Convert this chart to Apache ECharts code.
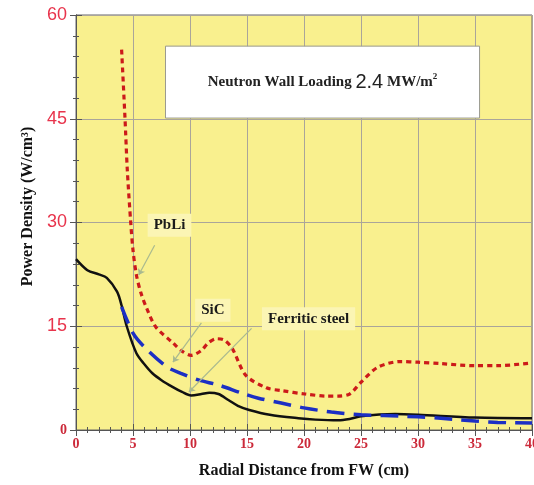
<!DOCTYPE html>
<html><head><meta charset="utf-8">
<script src="https://cdn.jsdelivr.net/npm/echarts@6/dist/echarts.min.js"></script>
<style>html,body{margin:0;padding:0;background:#fff}#c{width:534px;height:485px}</style>
</head><body><div id="c"></div>
<script>
// PbLi (red dotted)
const pbliX = [4.0, 4.3, 4.5, 4.8, 5.0, 5.3, 5.7, 6.2, 7.0, 8.5, 9.3, 10.1, 11.0, 11.6, 12.3, 13.0, 13.7, 14.9, 16.7, 18.0, 20.1, 22.0, 23.0, 24.0, 25.0, 26.5, 28.5, 30.0, 32.0, 35.0, 37.0, 40.0];
const pbliY = [55.0, 45.0, 37.6, 30.0, 26.0, 22.4, 19.8, 17.6, 14.9, 12.6, 11.4, 10.8, 11.5, 12.6, 13.2, 13.0, 11.8, 7.9, 6.1, 5.7, 5.2, 4.9, 4.9, 5.2, 6.9, 9.1, 9.9, 9.8, 9.6, 9.3, 9.3, 9.7];
// SiC (blue dashed)
const sicX = [4.0, 5.0, 6.0, 8.0, 9.2, 10.8, 12.5, 14.6, 16.0, 18.0, 20.0, 22.4, 25.0, 27.0, 30.0, 32.0, 35.0, 37.0, 40.0];
const sicY = [17.8, 14.0, 12.0, 9.1, 8.2, 7.2, 6.5, 5.3, 4.6, 3.9, 3.2, 2.6, 2.2, 2.1, 1.9, 1.7, 1.3, 1.1, 1.0];
// Ferritic steel (black solid)
const fsX = [0, 1.0, 2.0, 2.7, 3.6, 4.0, 4.45, 5.3, 6.0, 6.7, 7.5, 8.5, 9.3, 10.1, 11.0, 11.7, 12.5, 13.4, 14.2, 15.2, 17.0, 19.5, 21.0, 23.0, 24.0, 25.0, 28.0, 30.0, 35.0, 40.0];
const fsY = [24.7, 23.1, 22.5, 22.0, 20.0, 18.0, 15.0, 11.1, 9.5, 8.2, 7.2, 6.2, 5.5, 5.0, 5.2, 5.4, 5.2, 4.3, 3.5, 2.9, 2.2, 1.7, 1.5, 1.4, 1.6, 2.0, 2.3, 2.2, 1.8, 1.7];

const xTicks = [0, 5, 10, 15, 20, 25, 30, 35, 40];
const yTicks = [0, 15, 30, 45, 60];

// annotations: [labelX, labelY, arrowFromX, arrowFromY, arrowToX, arrowToY, text]
const annotations = [
  [8.2, 29.6, 6.9, 26.7, 5.5, 22.4, 'PbLi'],
  [12.0, 17.3, 11.0, 15.5, 8.5, 9.8, 'SiC'],
  [20.4, 16.1, 15.4, 14.7, 9.9, 5.5, 'Ferritic steel']
];
const boxX = [7.85, 35.4];
const boxY = [45.1, 55.5];

const zip = (xs, ys) => xs.map((x, i) => [x, ys[i]]);
const serif = '"Liberation Serif", "Times New Roman", serif';
const sans = '"Liberation Sans", Arial, sans-serif';

const tickCol = '#555';
function frameAxis(extra) {
  return Object.assign({
    axisLine: {show: true, lineStyle: {color: tickCol}},
    axisTick: {show: true, inside: true, length: 6, lineStyle: {color: tickCol}},
    minorTick: {show: true, splitNumber: 5, length: 3, lineStyle: {color: tickCol}},
  }, extra);
}

const chart = echarts.init(document.getElementById('c'), null, {renderer: 'canvas'});
chart.setOption({
  animation: false,
  backgroundColor: '#ffffff',
  grid: {left: 76, right: 2, top: 15, bottom: 55, outerBoundsMode: 'none', containLabel: false,
    show: true, backgroundColor: '#f9f08e', borderColor: '#666', borderWidth: 1},
  xAxis: [frameAxis({
    type: 'value', min: 0, max: 40, interval: 5, position: 'bottom',
    name: 'Radial Distance from FW (cm)', nameLocation: 'middle', nameGap: 33,
    nameTextStyle: {fontFamily: serif, fontWeight: 'bold', fontSize: 16, color: '#111'},
    splitLine: {show: true, lineStyle: {color: '#aaa59a', width: 1}},
    axisLabel: {fontFamily: serif, fontWeight: 'bold', fontSize: 14, color: '#cc2a3a', margin: 7,
      formatter: v => xTicks.includes(v) ? String(v) : ''}
  }), frameAxis({
    type: 'value', min: 0, max: 40, interval: 5, position: 'top',
    splitLine: {show: false}, axisLabel: {show: false}
  })],
  yAxis: [frameAxis({
    type: 'value', min: 0, max: 60, interval: 15, position: 'left',
    name: 'Power Density (W/cm³)', nameLocation: 'middle', nameGap: 37,
    nameTextStyle: {fontFamily: serif, fontWeight: 'bold', fontSize: 16, color: '#111', padding: [0, 0, 0, 32]},
    splitLine: {show: true, lineStyle: {color: '#aaa59a', width: 1}},
    axisLabel: {margin: 9,
      formatter: v => v === 0 ? '{z|0}' : '{n|' + v + '}',
      rich: {
        z: {fontFamily: serif, fontWeight: 'bold', fontSize: 14, color: '#cc2a3a'},
        n: {fontFamily: sans, fontSize: 18, color: '#e8344c'}
      }}
  }), frameAxis({
    type: 'value', min: 0, max: 60, interval: 15, position: 'right',
    splitLine: {show: false}, axisLabel: {show: false}
  })],
  series: [
    {
      type: 'scatter', name: 'box', symbolSize: 0, data: [],
      markArea: {
        silent: true,
        itemStyle: {color: '#ffffff', borderColor: '#9a9a90', borderWidth: 1, opacity: 1},
        label: {show: true, position: 'inside',
          formatter: '{a|Neutron Wall Loading }{b|2.4}{a| MW/m}{s|2}',
          rich: {
            a: {fontFamily: serif, fontWeight: 'bold', fontSize: 15, color: '#222'},
            b: {fontFamily: sans, fontSize: 20, color: '#222'},
            s: {fontFamily: serif, fontWeight: 'bold', fontSize: 9, color: '#222', verticalAlign: 'top', padding: [0, 0, 10, 0]}
          }},
        data: [[{coord: [boxX[0], boxY[1]]}, {coord: [boxX[1], boxY[0]]}]]
      }
    },
    {
      type: 'line', name: 'Ferritic steel', data: zip(fsX, fsY), smooth: 0.3, showSymbol: false, z: 3,
      lineStyle: {color: '#111111', width: 2.5}
    },
    {
      type: 'line', name: 'SiC', data: zip(sicX, sicY), smooth: 0.3, showSymbol: false, z: 4,
      lineStyle: {color: '#1c2fc4', width: 3.5, type: [18, 9]}
    },
    {
      type: 'line', name: 'PbLi', data: zip(pbliX, pbliY), smooth: 0.3, showSymbol: false, z: 5,
      lineStyle: {color: '#cc1a1a', width: 3.2, type: [5, 4]}
    },
    {
      type: 'lines', coordinateSystem: 'cartesian2d', z: 6,
      symbol: ['none', 'arrow'], symbolSize: 6,
      lineStyle: {color: '#a9b98f', width: 1.2, opacity: 1},
      data: annotations.map(a => ({coords: [[a[2], a[3]], [a[4], a[5]]]}))
    },
    {
      type: 'scatter', symbolSize: 0, z: 7,
      itemStyle: {opacity: 1},
      data: annotations.map(a => ({value: [a[0], a[1]], name: a[6]})),
      label: {show: true, position: 'inside', formatter: p => p.name,
        fontFamily: serif, fontWeight: 'bold', fontSize: 15, color: '#1a1a1a', opacity: 1,
        backgroundColor: '#fbf5b4', padding: [4, 6]}
    }
  ]
});
</script></body></html>
